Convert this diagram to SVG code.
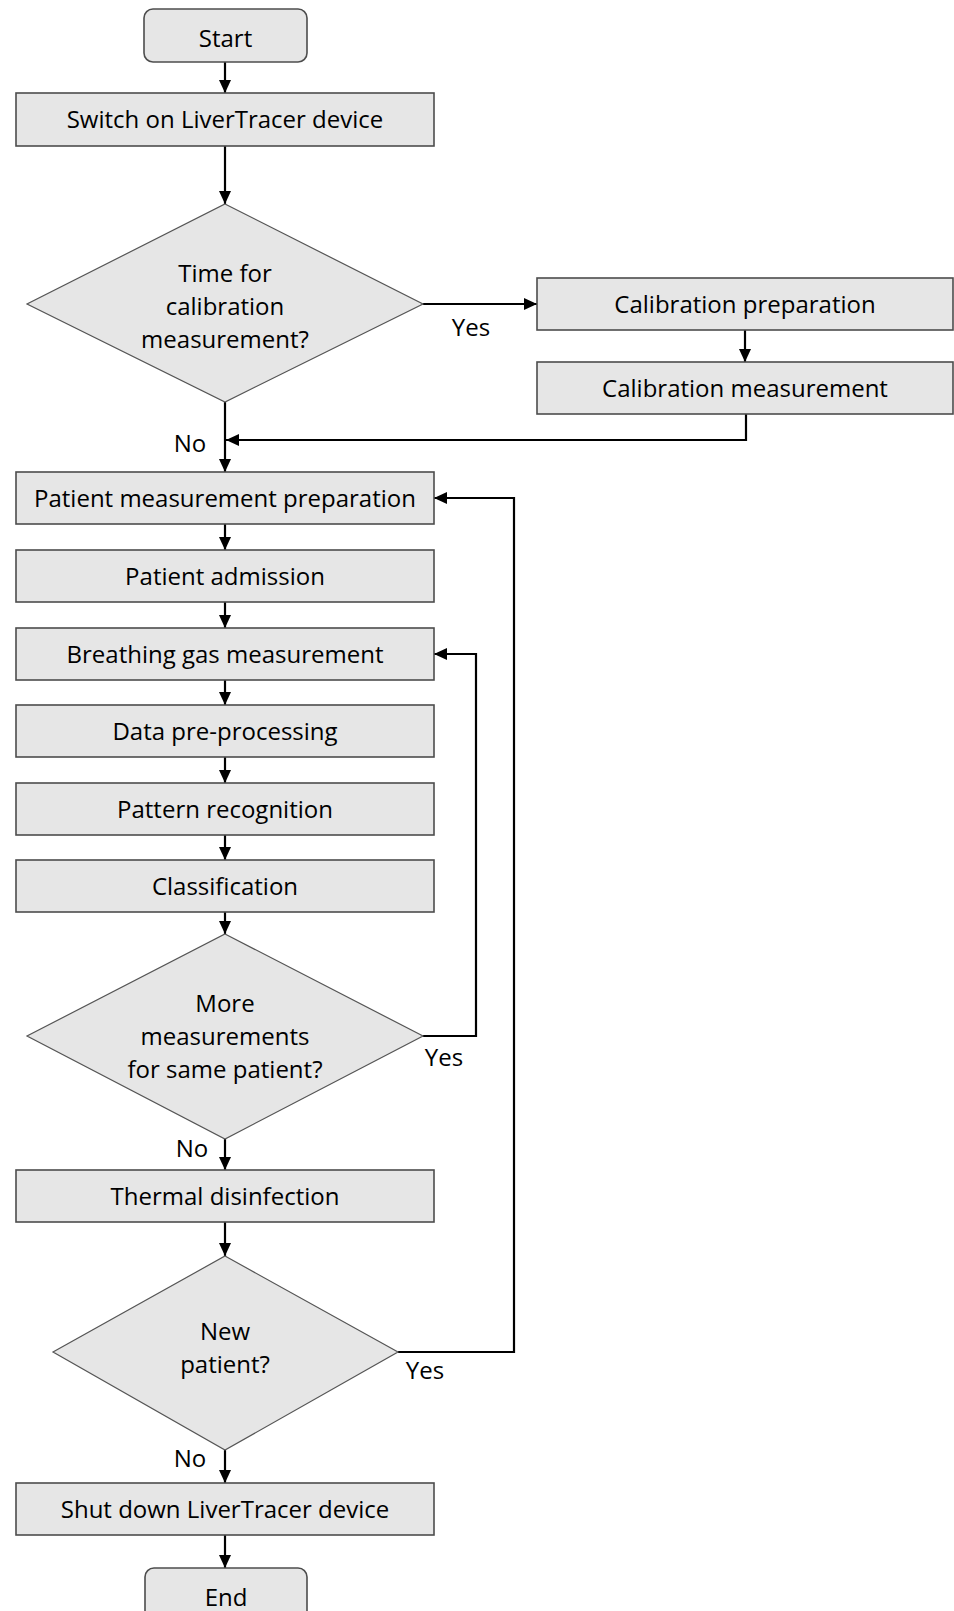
<svg xmlns="http://www.w3.org/2000/svg" width="954" height="1611" viewBox="0 0 954 1611">
<style>
.box{fill:#e6e6e6;stroke:#4d4d4d;stroke-width:1.6}
.dia{fill:#e6e6e6;stroke:#555;stroke-width:1.2}
.t{font-family:"Open Sans","Noto Sans","Liberation Sans",sans-serif;font-size:24px;fill:#000;text-anchor:middle}
.c{fill:none;stroke:#000;stroke-width:2.2}
</style>
<defs>
<marker id="ah" markerUnits="userSpaceOnUse" markerWidth="14" markerHeight="13" refX="13" refY="6.5" orient="auto">
<path d="M0,0.5 L13,6.5 L0,12.5 z" fill="#000"/>
</marker>
</defs>
<rect width="954" height="1611" fill="#fff"/>
<g id="connectors">
<path class="c" d="M225 62 V93" marker-end="url(#ah)"/>
<path class="c" d="M225 146 V204" marker-end="url(#ah)"/>
<path class="c" d="M423 304 H537" marker-end="url(#ah)"/>
<path class="c" d="M745 330 V362" marker-end="url(#ah)"/>
<path class="c" d="M746 414 V440 H226" marker-end="url(#ah)"/>
<path class="c" d="M225 402 V472" marker-end="url(#ah)"/>
<path class="c" d="M225 524 V550" marker-end="url(#ah)"/>
<path class="c" d="M225 602 V628" marker-end="url(#ah)"/>
<path class="c" d="M225 680 V705" marker-end="url(#ah)"/>
<path class="c" d="M225 757 V783" marker-end="url(#ah)"/>
<path class="c" d="M225 835 V860" marker-end="url(#ah)"/>
<path class="c" d="M225 912 V934" marker-end="url(#ah)"/>
<path class="c" d="M423 1036 H476 V654 H434" marker-end="url(#ah)"/>
<path class="c" d="M225 1139 V1170" marker-end="url(#ah)"/>
<path class="c" d="M225 1222 V1256" marker-end="url(#ah)"/>
<path class="c" d="M398 1352 H514 V498 H434" marker-end="url(#ah)"/>
<path class="c" d="M225 1450 V1483" marker-end="url(#ah)"/>
<path class="c" d="M225 1535 V1568" marker-end="url(#ah)"/>
<text class="t" x="471" y="336">Yes</text>
<text class="t" x="190" y="452">No</text>
<text class="t" x="444" y="1066">Yes</text>
<text class="t" x="192" y="1157">No</text>
<text class="t" x="425" y="1379">Yes</text>
<text class="t" x="190" y="1467">No</text>
</g>
<g id="start"><rect class="box" x="144" y="9" width="163" height="53" rx="9"/><text class="t" x="225.5" y="47">Start</text></g>
<g id="switch-on"><rect class="box" x="16" y="93" width="418" height="53"/><text class="t" x="225" y="128">Switch on LiverTracer device</text></g>
<g id="decision-calibration"><polygon class="dia" points="225,204 423,304 225,402 27,304"/>
<text class="t" x="225" y="282">Time for</text><text class="t" x="225" y="315">calibration</text><text class="t" x="225" y="348">measurement?</text></g>
<g id="calibration-preparation"><rect class="box" x="537" y="278" width="416" height="52"/><text class="t" x="745" y="313">Calibration preparation</text></g>
<g id="calibration-measurement"><rect class="box" x="537" y="362" width="416" height="52"/><text class="t" x="745" y="397">Calibration measurement</text></g>
<g id="patient-measurement-preparation"><rect class="box" x="16" y="472" width="418" height="52"/><text class="t" x="225" y="507">Patient measurement preparation</text></g>
<g id="patient-admission"><rect class="box" x="16" y="550" width="418" height="52"/><text class="t" x="225" y="585">Patient admission</text></g>
<g id="breathing-gas-measurement"><rect class="box" x="16" y="628" width="418" height="52"/><text class="t" x="225" y="663">Breathing gas measurement</text></g>
<g id="data-preprocessing"><rect class="box" x="16" y="705" width="418" height="52"/><text class="t" x="225" y="740">Data pre-processing</text></g>
<g id="pattern-recognition"><rect class="box" x="16" y="783" width="418" height="52"/><text class="t" x="225" y="818">Pattern recognition</text></g>
<g id="classification"><rect class="box" x="16" y="860" width="418" height="52"/><text class="t" x="225" y="895">Classification</text></g>
<g id="decision-more"><polygon class="dia" points="225,934 423,1036 225,1139 27,1036"/>
<text class="t" x="225" y="1012">More</text><text class="t" x="225" y="1045">measurements</text><text class="t" x="225" y="1078">for same patient?</text></g>
<g id="thermal-disinfection"><rect class="box" x="16" y="1170" width="418" height="52"/><text class="t" x="225" y="1205">Thermal disinfection</text></g>
<g id="decision-new-patient"><polygon class="dia" points="225,1256 398,1352 225,1450 53,1352"/>
<text class="t" x="225" y="1340">New</text><text class="t" x="225" y="1373">patient?</text></g>
<g id="shut-down"><rect class="box" x="16" y="1483" width="418" height="52"/><text class="t" x="225" y="1518">Shut down LiverTracer device</text></g>
<g id="end"><rect class="box" x="145" y="1568" width="162" height="53" rx="9"/><text class="t" x="226" y="1606">End</text></g>
</svg>
